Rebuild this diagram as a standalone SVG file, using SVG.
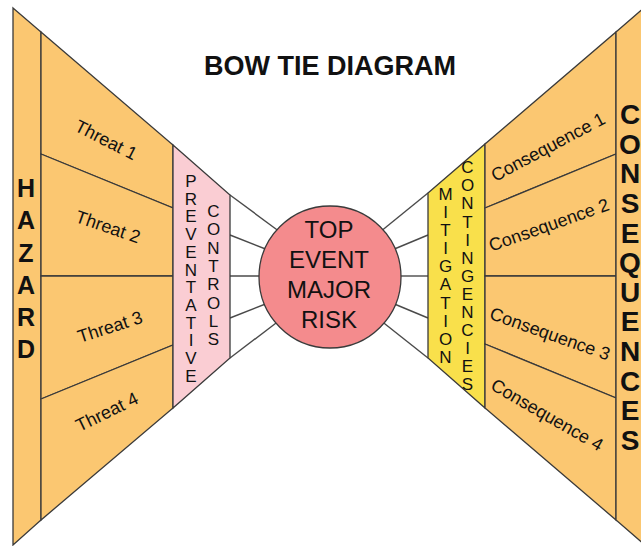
<svg xmlns="http://www.w3.org/2000/svg" width="641" height="546" viewBox="0 0 641 546">
<style>
.band{fill:#FBC771;stroke:#3a3a3a;stroke-width:1.3;stroke-linejoin:miter}
.pink{fill:#FACDD3;stroke:#3a3a3a;stroke-width:1.3}
.yel{fill:#F9E04B;stroke:#3a3a3a;stroke-width:1.3}
.spoke{stroke:#4a4a4a;stroke-width:1.4;fill:none}
.big{font-family:"Liberation Sans",Arial,sans-serif;font-weight:bold;fill:#111;text-anchor:middle}
.lab{font-family:"Liberation Sans",Arial,sans-serif;font-size:18px;fill:#111;text-anchor:middle;dominant-baseline:central}
.vert{font-family:"Liberation Sans",Arial,sans-serif;font-size:17px;fill:#111;text-anchor:middle}
.ctr{font-family:"Liberation Sans",Arial,sans-serif;font-size:24px;fill:#111;text-anchor:middle}
</style>
<rect width="641" height="546" fill="#ffffff"/>
<g id="title"><text class="big" x="330" y="75" font-size="27">BOW TIE DIAGRAM</text></g>

<g id="connectors">
<line class="spoke" x1="230" y1="195" x2="280" y2="232"/>
<line class="spoke" x1="230" y1="235" x2="268" y2="250"/>
<line class="spoke" x1="230" y1="276" x2="264" y2="276"/>
<line class="spoke" x1="230" y1="318" x2="268" y2="303"/>
<line class="spoke" x1="230" y1="358" x2="280" y2="320"/>
<line class="spoke" x1="380" y1="232" x2="428" y2="193"/>
<line class="spoke" x1="392" y1="250" x2="428" y2="235"/>
<line class="spoke" x1="396" y1="276" x2="428" y2="276"/>
<line class="spoke" x1="392" y1="303" x2="428" y2="318"/>
<line class="spoke" x1="380" y1="320" x2="428" y2="358"/>
</g>

<g id="hazard">
<polygon class="band" points="13,8 41,32 41,520 13,545"/>
<text class="big" font-size="25" x="26"><tspan x="26" y="197">H</tspan><tspan x="26" y="229">A</tspan><tspan x="26" y="262">Z</tspan><tspan x="26" y="294">A</tspan><tspan x="26" y="326">R</tspan><tspan x="26" y="358">D</tspan></text>
</g>

<g id="threat1"><polygon class="band" points="41,32 173,145 173,208 41,154"/><text class="lab" transform="translate(106,140) rotate(27)">Threat 1</text></g>
<g id="threat2"><polygon class="band" points="41,154 173,208 173,276 41,276"/><text class="lab" transform="translate(108,227) rotate(19)">Threat 2</text></g>
<g id="threat3"><polygon class="band" points="41,276 173,276 173,345 41,399"/><text class="lab" transform="translate(110,327) rotate(-18)">Threat 3</text></g>
<g id="threat4"><polygon class="band" points="41,399 173,345 173,408 41,520"/><text class="lab" transform="translate(107,412) rotate(-26)">Threat 4</text></g>

<g id="preventative-controls">
<polygon class="pink" points="173,145 230,195 230,358 173,408"/>
<text class="vert"><tspan x="191" y="187">P</tspan><tspan x="191" y="204.7">R</tspan><tspan x="191" y="222.4">E</tspan><tspan x="191" y="240.1">V</tspan><tspan x="191" y="257.8">E</tspan><tspan x="191" y="275.5">N</tspan><tspan x="191" y="293.2">T</tspan><tspan x="191" y="310.9">A</tspan><tspan x="191" y="328.6">T</tspan><tspan x="191" y="346.3">I</tspan><tspan x="191" y="364">V</tspan><tspan x="191" y="381.7">E</tspan></text>
<text class="vert"><tspan x="213.5" y="217">C</tspan><tspan x="213.5" y="235.3">O</tspan><tspan x="213.5" y="253.6">N</tspan><tspan x="213.5" y="271.9">T</tspan><tspan x="213.5" y="290.2">R</tspan><tspan x="213.5" y="308.5">O</tspan><tspan x="213.5" y="326.8">L</tspan><tspan x="213.5" y="345">S</tspan></text>
</g>

<g id="top-event">
<circle cx="330" cy="277" r="71" fill="#F48B8D" stroke="#3a3a3a" stroke-width="1.3"/>
<text class="ctr"><tspan x="329" y="238">TOP</tspan><tspan x="329" y="268">EVENT</tspan><tspan x="329" y="298">MAJOR</tspan><tspan x="329" y="328">RISK</tspan></text>
</g>

<g id="mitigation-contingencies">
<polygon class="yel" points="428,193 485,144 485,408 428,358"/>
<text class="vert"><tspan x="445.5" y="200">M</tspan><tspan x="445.5" y="218.1">I</tspan><tspan x="445.5" y="236.2">T</tspan><tspan x="445.5" y="254.3">I</tspan><tspan x="445.5" y="272.4">G</tspan><tspan x="445.5" y="290.4">A</tspan><tspan x="445.5" y="308.5">T</tspan><tspan x="445.5" y="326.6">I</tspan><tspan x="445.5" y="344.7">O</tspan><tspan x="445.5" y="362.7">N</tspan></text>
<text class="vert"><tspan x="467.5" y="173.3">C</tspan><tspan x="467.5" y="191.4">O</tspan><tspan x="467.5" y="209.4">N</tspan><tspan x="467.5" y="227.5">T</tspan><tspan x="467.5" y="245.5">I</tspan><tspan x="467.5" y="263.6">N</tspan><tspan x="467.5" y="281.6">G</tspan><tspan x="467.5" y="299.7">E</tspan><tspan x="467.5" y="317.8">N</tspan><tspan x="467.5" y="335.8">C</tspan><tspan x="467.5" y="353.9">I</tspan><tspan x="467.5" y="371.9">E</tspan><tspan x="467.5" y="390">S</tspan></text>
</g>

<g id="consequence1"><polygon class="band" points="485,144 616,32 616,154 485,208"/><text class="lab" transform="translate(548,147) rotate(-28)">Consequence 1</text></g>
<g id="consequence2"><polygon class="band" points="485,208 616,154 616,276 485,276"/><text class="lab" transform="translate(549,225) rotate(-19.5)">Consequence 2</text></g>
<g id="consequence3"><polygon class="band" points="485,276 616,276 616,398 485,344"/><text class="lab" transform="translate(550,334) rotate(19.5)">Consequence 3</text></g>
<g id="consequence4"><polygon class="band" points="485,344 616,398 616,520 485,408"/><text class="lab" transform="translate(547,415) rotate(30)">Consequence 4</text></g>

<g id="consequences">
<polygon class="band" points="616,32 646,6 646,546 616,520"/>
<text class="big" font-size="28"><tspan x="630" y="124">C</tspan><tspan x="630" y="153.6">O</tspan><tspan x="630" y="183.3">N</tspan><tspan x="630" y="212.9">S</tspan><tspan x="630" y="242.5">E</tspan><tspan x="630" y="272.2">Q</tspan><tspan x="630" y="301.8">U</tspan><tspan x="630" y="331.4">E</tspan><tspan x="630" y="361.1">N</tspan><tspan x="630" y="390.7">C</tspan><tspan x="630" y="420.3">E</tspan><tspan x="630" y="450">S</tspan></text>
</g>
</svg>
